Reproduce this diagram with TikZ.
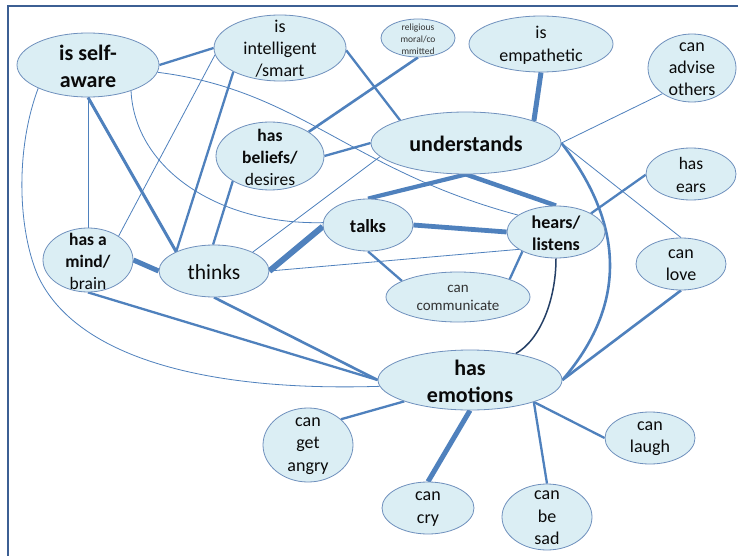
\documentclass[tikz,border=0pt]{standalone}
\usepackage{fontspec}
\setmainfont{Carlito}
\usetikzlibrary{shapes.geometric,backgrounds}

\definecolor{edge}{HTML}{4F81BD}
\definecolor{bfill}{HTML}{DBEEF4}
\definecolor{bline}{HTML}{6F90BD}
\definecolor{framec}{HTML}{3C5F93}
\definecolor{navy}{HTML}{243F66}
\definecolor{ink}{HTML}{0A0A0A}
\definecolor{greyink}{HTML}{333333}

\tikzset{
  bub/.style 2 args={ellipse, draw=bline, line width=0.8pt, fill=bfill,
    inner sep=0pt, minimum width=#1pt, minimum height=#2pt},
  txt/.style={align=center, text=ink, inner sep=0pt, yshift=-1pt},
  bigb/.style={txt, font=\fontsize{22}{27}\selectfont\bfseries},
  mid/.style={txt, font=\fontsize{18}{22}\selectfont},
  midb/.style={txt, font=\fontsize{18}{22}\selectfont\bfseries},
  small/.style={txt, text=greyink, font=\fontsize{15}{18}\selectfont},
  tiny/.style={txt, text=greyink, font=\fontsize{9.5}{12}\selectfont},
  lk/.style={draw=edge, line width=#1pt},
  lk/.default=2.3,
  thinlk/.style={draw=edge, line width=0.8pt},
}

\begin{document}
\begin{tikzpicture}[x=1pt,y=-1pt]
\useasboundingbox (0,0) rectangle (738,556);

% bubbles
\node[bub={142}{64}] (sa) at (88,65) {};
\node[bub={132}{66}] (intl) at (280,48) {};
\node[bub={74}{38}] (rel) at (418,38) {};
\node[bub={144}{56}] (emp) at (541,44) {};
\node[bub={88}{68}] (adv) at (692,68) {};
\node[bub={190}{62}] (und) at (466,143) {};
\node[bub={108}{68}] (bel) at (270,156) {};
\node[bub={90}{52}] (ears) at (691,174) {};
\node[bub={90}{52}] (talk) at (368,225) {};
\node[bub={98}{52}] (hear) at (556,232) {};
\node[bub={90}{64}] (mind) at (88,260) {};
\node[bub={110}{52}] (thk) at (214,271) {};
\node[bub={90}{52}] (love) at (681,264) {};
\node[bub={144}{50}] (comm) at (458,297) {};
\node[bub={184}{60}] (em) at (470,380) {};
\node[bub={90}{74}] (angry) at (308,445) {};
\node[bub={90}{52}] (laugh) at (650,438) {};
\node[bub={92}{52}] (cry) at (428,508) {};
\node[bub={90}{66}] (sad) at (547,517) {};

% texts
\node[bigb] (sa-t) at (sa) {is self-\\aware};
\node[mid] (intl-t) at (intl) {is\\intelligent\\/smart};
\node[tiny] (rel-t) at (rel) {religious\\moral/co\\mmitted};
\node[mid, font=\fontsize{18}{23}\selectfont] (emp-t) at (emp) {is\\empathetic};
\node[mid] (adv-t) at (adv) {can\\advise\\others};
\node[bigb] (und-t) at (und) {understands};
\node[mid, font=\fontsize{17.5}{22}\selectfont] (bel-t) at (bel) {\textbf{has}\\\textbf{beliefs/}\\desires};
\node[mid, font=\fontsize{17.5}{23}\selectfont] (ears-t) at (ears) {has\\ears};
\node[midb, font=\fontsize{18.5}{22}\selectfont\bfseries] (talk-t) at (talk) {talks};
\node[midb] (hear-t) at (hear) {hears/\\listens};
\node[mid, font=\fontsize{17.5}{22}\selectfont] (mind-t) at (mind) {\textbf{has a}\\\textbf{mind/}\\brain};
\node[mid, font=\fontsize{21.5}{26}\selectfont] (thk-t) at (thk) {thinks};
\node[mid] (love-t) at (love) {can\\love};
\node[small] (comm-t) at (comm) {can\\communicate};
\node[bigb] (em-t) at (em) {has\\emotions};
\node[mid, font=\fontsize{18}{22.5}\selectfont] (angry-t) at (angry) {can\\get\\angry};
\node[mid] (laugh-t) at (laugh) {can\\laugh};
\node[mid, font=\fontsize{18}{23}\selectfont] (cry-t) at (cry) {can\\cry};
\node[mid, font=\fontsize{18}{22.5}\selectfont] (sad-t) at (sad) {can\\be\\sad};

\begin{scope}[on background layer]
  \fill[white] (0,0) rectangle (738,556);
  % frame
  \draw[framec, line width=2.4pt] (8,556) -- (8,6) -- (738,6);

  % thin links
  \draw[thinlk] (sa.-6) .. controls (300,90) and (350,170) .. (hear.156);
  \draw[thinlk] (sa.-31) .. controls (135,170) and (220,225) .. (talk.177);
  \draw[thinlk] (sa.270) -- (mind.90);
  \draw[thinlk] (sa.205) .. controls (15,150) and (18,230) .. (38,276)
                .. controls (75,355) and (200,392) .. (em.184);
  \draw[thinlk] (intl.186) -- (mind.38);
  \draw[thinlk] (und.189) -- (thk.26);
  \draw[thinlk] (und.0) -- (adv.221);
  \draw[thinlk] (und.0) -- (love.90);
  \draw[thinlk] (thk.0) -- (hear.205);

  % medium links
  \draw[lk] (sa.0) -- (intl.180);
  \draw[lk=3] (sa.270) -- (thk.153);
  \draw[lk] (intl.207) -- (thk.153);
  \draw[lk] (intl.-2) -- (und.161);
  \draw[lk=2.6] (bel.32) -- (rel.270);
  \draw[lk] (bel.0) -- (und.180);
  \draw[lk] (bel.214) -- (thk.92);
  \draw[lk=2.6] (und.0) .. controls (625,225) and (627,305) .. (em.0);
  \draw[lk] (hear.28) -- (ears.181);
  \draw[lk=2.6] (love.270) -- (em.0);
  \draw[lk] (talk.270) -- (comm.164);
  \draw[lk] (hear.210) -- (comm.19);
  \draw[lk] (mind.270) -- (em.180);
  \draw[lk=2.6] (thk.270) -- (em.180);
  \draw[lk] (em.198) -- (angry.38);
  \draw[lk] (em.-19) -- (sad.90);
  \draw[lk] (em.-19) -- (laugh.180);
  \draw[navy, line width=1.5pt] (hear.270) .. controls (556,300) and (540,340) .. (em.30);

  % heavy links
  \draw[lk=4.2] (und.270) -- (talk.90);
  \draw[lk=4.5] (und.270) -- (hear.90);
  \draw[lk=4.8] (talk.0) -- (hear.180);
  \draw[lk=6] (talk.182) -- (thk.0);
  \draw[lk=5] (mind.0) -- (thk.180);
  \draw[lk=5] (emp.270) -- (und.18);
  \draw[lk=5] (em.270) -- (cry.90);
\end{scope}
\end{tikzpicture}
\end{document}
